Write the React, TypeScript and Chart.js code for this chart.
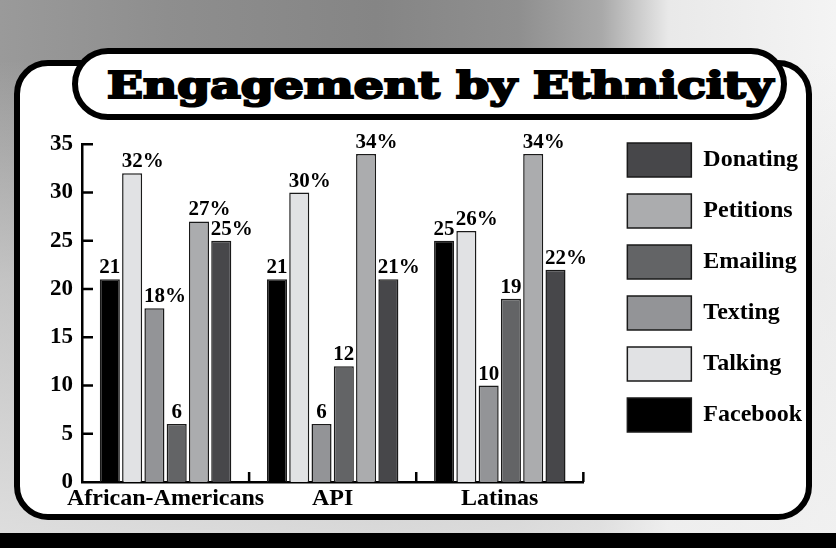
import React, { useEffect, useLayoutEffect, useRef } from "react";
import { Chart, registerables } from "chart.js";

Chart.register(...registerables);

// ---------- data ----------
const categories = ["African-Americans", "API", "Latinas"];
const seriesNames = ["Facebook", "Talking", "Texting", "Emailing", "Petitions", "Donating"];
const facebook = [21, 21, 25];
const talking = [32, 30, 26];
const texting = [18, 6, 10];
const emailing = [6, 12, 19];
const petitions = [27, 34, 34];
const donating = [25, 21, 22];
const facebookLabels = ["21", "21", "25"];
const talkingLabels = ["32%", "30%", "26%"];
const textingLabels = ["18%", "6", "10"];
const emailingLabels = ["6", "12", "19"];
const petitionsLabels = ["27%", "34%", "34%"];
const donatingLabels = ["25%", "21%", "22%"];
const yMin = 0;
const yMax = 35;
const yStep = 5;
const titleText = "Engagement by Ethnicity";

const seriesValues = [facebook, talking, texting, emailing, petitions, donating];
const seriesLabels = [facebookLabels, talkingLabels, textingLabels, emailingLabels, petitionsLabels, donatingLabels];
const seriesColors = ["#000000", "#e1e2e4", "#939497", "#636466", "#abacae", "#47474a"];

const SERIF = '"Liberation Serif", "Times New Roman", serif';

const innerTicks = {
  id: "innerTicks",
  afterDatasetsDraw(chart: any) {
    const { ctx, scales } = chart;
    const x = scales.x;
    const y = scales.y;
    ctx.save();
    ctx.strokeStyle = "#000";
    ctx.lineWidth = 2.5;
    ctx.beginPath();
    y.ticks.forEach((t: any) => {
      if (t.value === yMin) return;
      const py = y.getPixelForValue(t.value);
      ctx.moveTo(x.left, py);
      ctx.lineTo(x.left + 11, py);
    });
    for (let i = 0; i < categories.length; i++) {
      const px = x.getPixelForValue(i + 0.5);
      ctx.moveTo(px, y.bottom);
      ctx.lineTo(px, y.bottom - 10);
    }
    ctx.stroke();
    ctx.restore();
  },
};

const barLabels = {
  id: "barLabels",
  afterDatasetsDraw(chart: any) {
    const { ctx } = chart;
    ctx.save();
    ctx.font = `bold 21px ${SERIF}`;
    ctx.fillStyle = "#000";
    ctx.textBaseline = "alphabetic";
    ctx.textAlign = "left";
    chart.data.datasets.forEach((_ds: any, di: number) => {
      const meta = chart.getDatasetMeta(di);
      meta.data.forEach((bar: any, i: number) => {
        const text = seriesLabels[di][i];
        const num = text.replace("%", "");
        const w = ctx.measureText(num).width;
        ctx.fillText(text, bar.x - w / 2, bar.y - 6);
      });
    });
    ctx.restore();
  },
};

function ChartBox() {
  const ref = useRef<HTMLCanvasElement | null>(null);
  useEffect(() => {
    let chart: Chart | null = null;
    let cancelled = false;
    const make = () => {
      if (cancelled || !ref.current) return;
      chart = new Chart(ref.current, {
        type: "bar",
        data: {
          labels: categories,
          datasets: seriesNames.map((name, i) => ({
            label: name,
            data: seriesValues[i],
            backgroundColor: seriesColors[i],
            borderColor: "#1a1a1a",
            borderWidth: 1.5,
            categoryPercentage: 0.8,
            barPercentage: 0.9,
            yAxisID: "y",
          })),
        },
        options: {
          responsive: false,
          animation: false,
          layout: { padding: { top: 8, right: 4, left: 0, bottom: 0 } },
          plugins: {
            legend: {
              position: "right",
              align: "start",
              reverse: true,
              maxWidth: 320,
              labels: {
                boxWidth: 64,
                boxHeight: 34,
                padding: 17,
                color: "#000",
                font: { family: SERIF, size: 24, weight: "bold" },
              },
            },
            tooltip: { enabled: false },
          },
          scales: {
            x: {
              type: "category",
              offset: true,
              grid: { display: false, drawTicks: false },
              border: { display: true, color: "#000", width: 2.5 },
              ticks: {
                color: "#000",
                font: { family: SERIF, size: 24, weight: "bold" },
                padding: 2,
                autoSkip: false,
                maxRotation: 0,
                minRotation: 0,
              },
              afterFit: (s: any) => {
                s.height = 36;
              },
            },
            y: {
              type: "linear",
              min: yMin,
              max: yMax,
              grid: { display: false, drawTicks: false },
              border: { display: true, color: "#000", width: 2.5 },
              ticks: {
                stepSize: yStep,
                color: "#000",
                font: { family: SERIF, size: 23, weight: "bold", lineHeight: 1.5 },
                padding: 9,
              },
              afterFit: (s: any) => {
                s.width = 66;
              },
            },
            yR: {
              type: "linear",
              position: "right",
              display: true,
              grid: { display: false, drawTicks: false },
              border: { display: false },
              ticks: { display: false },
              afterFit: (s: any) => {
                s.width = 27;
              },
            },
          },
        } as any,
        plugins: [innerTicks, barLabels],
      });
    };
    const fontsApi = (document as any).fonts;
    if (fontsApi && fontsApi.load) {
      Promise.all([
        fontsApi.load(`bold 24px "Liberation Serif"`),
        fontsApi.load(`bold 21px "Liberation Serif"`),
      ]).then(make, make);
    } else {
      make();
    }
    return () => {
      cancelled = true;
      if (chart) chart.destroy();
    };
  }, []);
  return (
    <canvas
      ref={ref}
      width={800}
      height={400}
      style={{ position: "absolute", left: 16, top: 118, width: 800, height: 400 }}
    />
  );
}

function Title() {
  const ref = useRef<HTMLSpanElement | null>(null);
  useLayoutEffect(() => {
    const el = ref.current;
    if (!el) return;
    const fit = () => {
      el.style.transform = "none";
      const w = el.getBoundingClientRect().width;
      if (w > 0) el.style.transform = `scaleX(${666 / w})`;
    };
    fit();
    const f = (document as any).fonts;
    if (f && f.ready) f.ready.then(fit);
  }, []);
  return (
    <span
      ref={ref}
      style={{
        position: "absolute",
        left: 107,
        top: 67,
        fontFamily: '"DejaVu Serif", serif',
        fontWeight: 900,
        fontSize: 37,
        lineHeight: "37px",
        whiteSpace: "nowrap",
        color: "#000",
        WebkitTextStroke: "2.2px #000",
        transformOrigin: "left top",
        letterSpacing: 0,
      }}
    >
      {titleText}
    </span>
  );
}

export default function App() {
  return (
    <div
      style={{
        position: "fixed",
        left: 0,
        top: 0,
        width: 836,
        height: 548,
        overflow: "hidden",
        background:
          "linear-gradient(90deg, #9a9a9a 0%, #8e8e8e 20%, #858585 45%, #8f8f8f 62%, #a9a9a9 72%, #e9e9e9 80%, #f4f4f4 100%)",
      }}
    >
      {/* lighter lower-left haze */}
      <div
        style={{
          position: "absolute",
          left: 0,
          top: 60,
          width: 836,
          height: 488,
          background:
            "linear-gradient(180deg, rgba(255,255,255,0) 0%, rgba(230,230,230,0.55) 45%, rgba(240,240,240,0.8) 100%)",
        }}
      />
      {/* bottom black band */}
      <div style={{ position: "absolute", left: 0, top: 533, width: 836, height: 15, background: "#000" }} />
      {/* white panel */}
      <div
        style={{
          position: "absolute",
          left: 14,
          top: 60,
          width: 798,
          height: 460,
          boxSizing: "border-box",
          border: "6px solid #000",
          borderRadius: 34,
          background: "#fff",
        }}
      />
      {/* title pill */}
      <div
        style={{
          position: "absolute",
          left: 72,
          top: 48,
          width: 715,
          height: 72,
          boxSizing: "border-box",
          border: "6px solid #000",
          borderRadius: 36,
          background: "#fff",
        }}
      />
      <Title />
      <ChartBox />
    </div>
  );
}
